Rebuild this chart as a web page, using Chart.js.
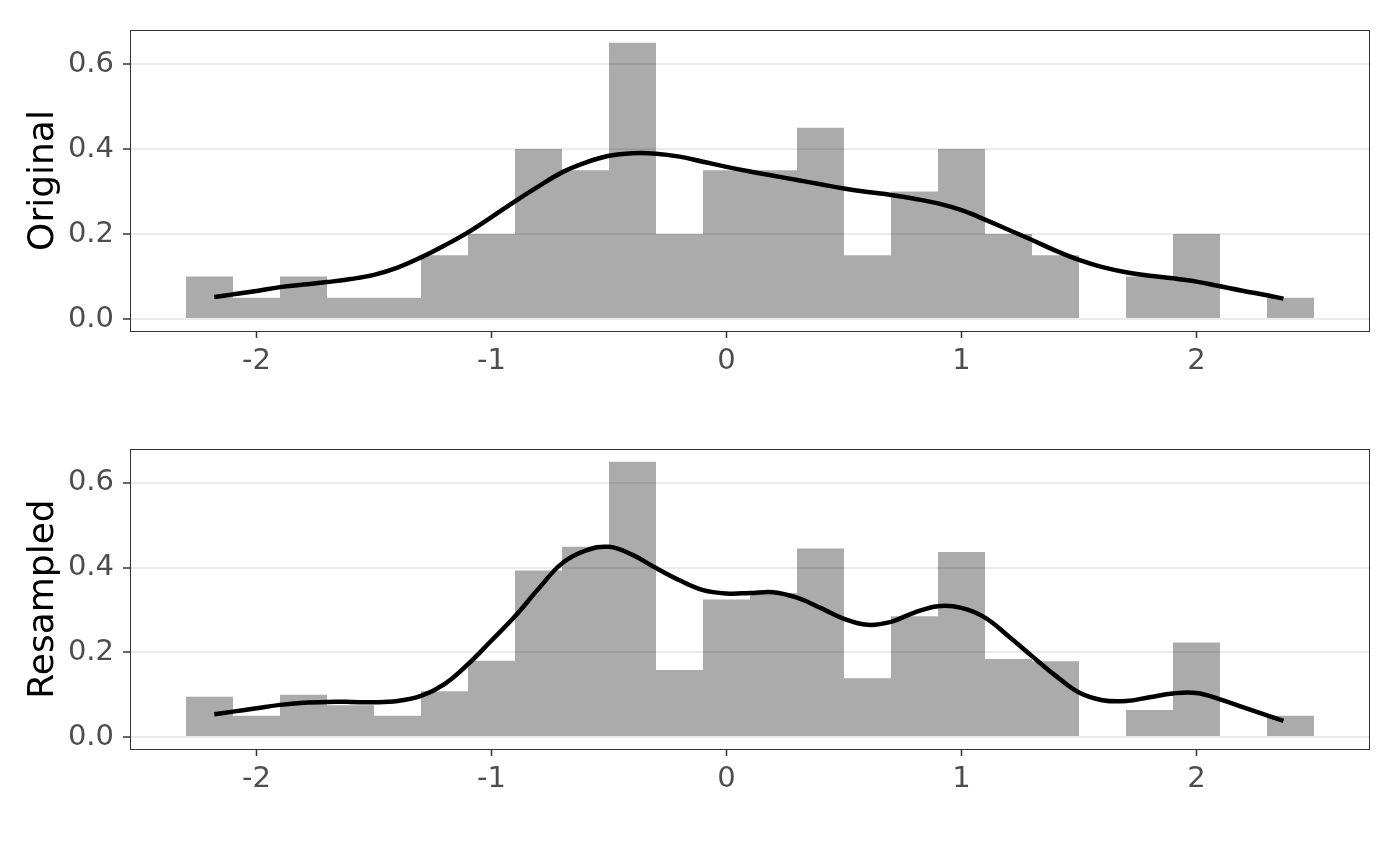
<!DOCTYPE html>
<html>
<head>
<meta charset="utf-8">
<script src="https://cdn.jsdelivr.net/npm/chart.js@4.4.1/dist/chart.umd.min.js"></script>
<style>
  body { margin: 0; background: #fff; width: 1400px; height: 866px; overflow: hidden; }
  .painel { position: absolute; left: 0; width: 1400px; height: 420px; }
</style>
</head>
<body>
<div class="painel" style="top:0"><canvas id="graficoOriginal" width="1400" height="420"></canvas></div>
<div class="painel" style="top:419px"><canvas id="graficoResampled" width="1400" height="420"></canvas></div>
<script>
// centros dos bins do histograma (largura 0.2)
const centrosBins = [-2.2, -2.0, -1.8, -1.6, -1.4, -1.2, -1.0, -0.8, -0.6, -0.4, -0.2, 0.0,
  0.2, 0.4, 0.6, 0.8, 1.0, 1.2, 1.4, 1.6, 1.8, 2.0, 2.2, 2.4]
const alturasOriginal = [0.1, 0.05, 0.1, 0.05, 0.05, 0.15, 0.2, 0.4, 0.35, 0.65, 0.2, 0.35,
  0.35, 0.45, 0.15, 0.3, 0.4, 0.2, 0.15, 0, 0.1, 0.2, 0, 0.05]
const alturasResampled = [0.095, 0.05, 0.1, 0.075, 0.05, 0.108, 0.18, 0.393, 0.449, 0.65, 0.158, 0.325,
  0.34, 0.445, 0.139, 0.285, 0.437, 0.184, 0.179, 0, 0.064, 0.223, 0, 0.05]

const curvaX = [-2.18, -2.1, -2.0, -1.9, -1.8, -1.7, -1.6, -1.5, -1.4, -1.3, -1.2, -1.1, -1.0, -0.9, -0.8,
  -0.7, -0.6, -0.5, -0.4, -0.3, -0.2, -0.1, 0.0, 0.1, 0.2, 0.3, 0.4, 0.5, 0.6, 0.7, 0.8, 0.9, 1.0,
  1.1, 1.2, 1.3, 1.4, 1.5, 1.6, 1.7, 1.8, 1.9, 2.0, 2.1, 2.2, 2.3, 2.37]
const curvaOriginal = [0.052, 0.058, 0.066, 0.075, 0.081, 0.087, 0.094, 0.104, 0.121, 0.145, 0.173, 0.204, 0.24, 0.277, 0.312,
  0.345, 0.368, 0.384, 0.39, 0.389, 0.382, 0.37, 0.358, 0.347, 0.337, 0.327, 0.317, 0.307, 0.299, 0.292, 0.283, 0.272, 0.256,
  0.234, 0.21, 0.186, 0.161, 0.139, 0.122, 0.11, 0.102, 0.096, 0.088, 0.077, 0.066, 0.056, 0.048]
const curvaResampled = [0.054, 0.06, 0.068, 0.076, 0.081, 0.083, 0.083, 0.082, 0.085, 0.097, 0.125, 0.172, 0.228, 0.285, 0.35,
  0.41, 0.44, 0.449, 0.43, 0.399, 0.37, 0.347, 0.339, 0.34, 0.342, 0.329, 0.305, 0.279, 0.265, 0.272, 0.294, 0.309, 0.305,
  0.282, 0.238, 0.191, 0.145, 0.105, 0.087, 0.085, 0.094, 0.103, 0.104, 0.089, 0.07, 0.051, 0.038]

const limitesX = [-2.5383, 2.7383]
const limitesY = [-0.0282, 0.68]
const passoX = 1
const passoY = 0.2

const fonte = 'DejaVu Sans'

// desenha a borda do painel (estilo theme_bw)
const bordaPainel = {
  id: 'bordaPainel',
  afterDraw (chart) {
    const { ctx, chartArea } = chart
    ctx.save()
    ctx.strokeStyle = '#333333'
    ctx.lineWidth = 1
    ctx.strokeRect(chartArea.left + 0.5, chartArea.top + 0.5, chartArea.right - chartArea.left - 1, chartArea.bottom - chartArea.top)
    ctx.restore()
  }
}

function criarGrafico (idCanvas, titulo, alturas, curva, alturaEixoX) {
  const barras = centrosBins.map((x, i) => ({ x: x, y: alturas[i] }))
  const linha = curvaX.map((x, i) => ({ x: x, y: curva[i] }))

  return new Chart(document.getElementById(idCanvas), {
    type: 'bar',
    data: {
      datasets: [
        {
          type: 'line',
          data: linha,
          borderColor: '#000000',
          borderWidth: 4.5,
          borderCapStyle: 'butt',
          pointRadius: 0,
          tension: 0.4,
          fill: false,
          order: 0
        },
        {
          type: 'bar',
          data: barras,
          backgroundColor: 'rgba(0,0,0,0.33)',
          borderWidth: 0,
          inflateAmount: 0,
          barPercentage: 1,
          categoryPercentage: 1,
          order: 1
        }
      ]
    },
    options: {
      responsive: false,
      animation: false,
      devicePixelRatio: 1,
      layout: { padding: { top: 30, right: 30, left: 0, bottom: 0 } },
      plugins: { legend: { display: false }, tooltip: { enabled: false } },
      scales: {
        x: {
          type: 'linear',
          offset: false,
          min: limitesX[0],
          max: limitesX[1],
          afterFit (scale) { scale.height = alturaEixoX },
          border: { display: false },
          grid: { offset: false, drawOnChartArea: false, drawTicks: true, tickLength: 7, tickColor: '#333333', tickWidth: 1.5 },
          ticks: {
            stepSize: passoX,
            includeBounds: false,
            padding: 6,
            color: '#4d4d4d',
            font: { family: fonte, size: 29 },
            maxRotation: 0,
            callback: (v) => String(v)
          }
        },
        y: {
          type: 'linear',
          min: limitesY[0],
          max: limitesY[1],
          afterFit (scale) { scale.width = 130 },
          border: { display: false },
          grid: { color: '#ebebeb', lineWidth: 2, drawTicks: true, tickLength: 7, tickColor: '#333333', tickWidth: 1.5 },
          ticks: {
            stepSize: passoY,
            includeBounds: false,
            padding: 9,
            color: '#4d4d4d',
            font: { family: fonte, size: 29 },
            callback: (v) => Number(v).toFixed(1)
          },
          title: {
            display: true,
            text: titulo,
            color: '#000000',
            font: { family: fonte, size: 36 },
            padding: { top: 22, bottom: 0 }
          }
        }
      }
    },
    plugins: [bordaPainel]
  })
}

criarGrafico('graficoOriginal', 'Original', alturasOriginal, curvaOriginal, 89)
criarGrafico('graficoResampled', 'Resampled', alturasResampled, curvaResampled, 90)
</script>
</body>
</html>
